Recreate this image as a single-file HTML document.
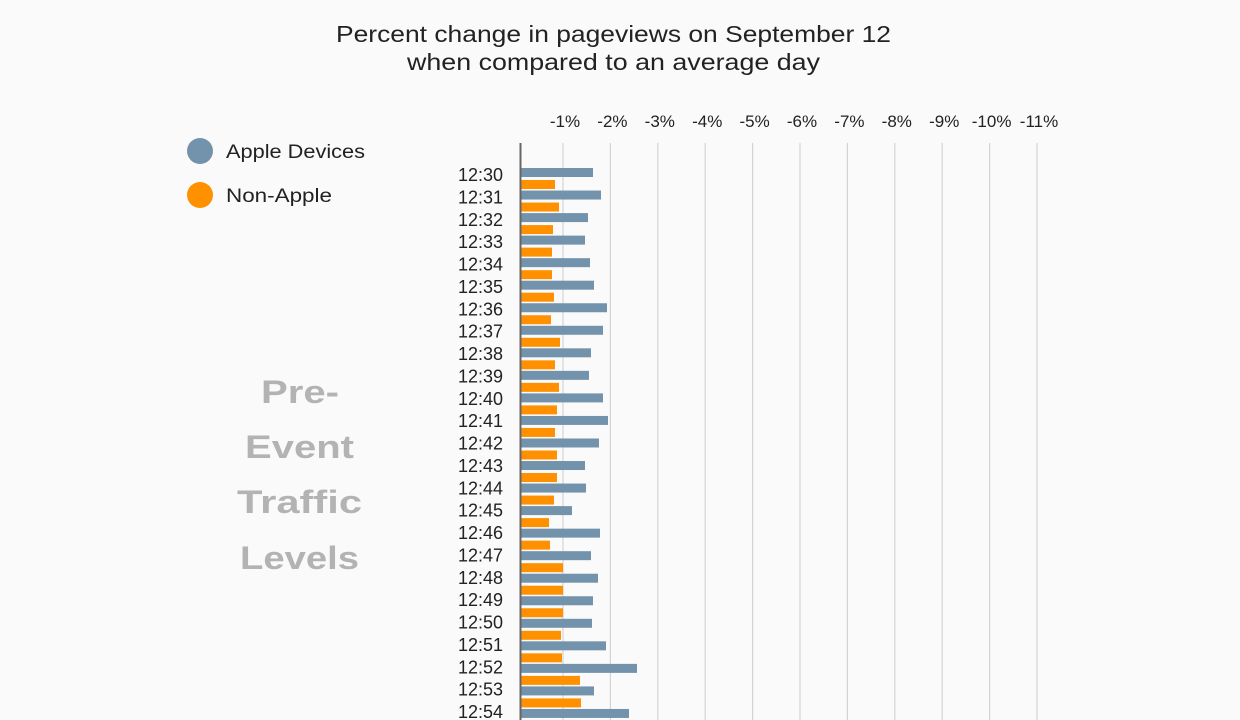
<!DOCTYPE html>
<html><head><meta charset="utf-8"><style>
html,body{margin:0;padding:0;background:#fafafa;}
svg{display:block;font-family:"Liberation Sans",sans-serif;}
</style></head><body>
<svg width="1240" height="720" viewBox="0 0 1240 720">
<rect width="1240" height="720" fill="#fafafa"/>
<text x="336" y="42" font-size="23" fill="#222" textLength="555" lengthAdjust="spacingAndGlyphs">Percent change in pageviews on September 12</text>
<text x="407" y="70" font-size="23" fill="#222" textLength="413" lengthAdjust="spacingAndGlyphs">when compared to an average day</text>
<circle cx="200" cy="151" r="13" fill="#7393ad"/>
<circle cx="200" cy="195" r="13" fill="#ff9100"/>
<text x="226" y="158" font-size="19" fill="#222" textLength="139" lengthAdjust="spacingAndGlyphs">Apple Devices</text>
<text x="226" y="202" font-size="19" fill="#222" textLength="106" lengthAdjust="spacingAndGlyphs">Non-Apple</text>
<g font-size="32" font-weight="bold" fill="#b3b3b3">
<text x="261" y="403" textLength="78" lengthAdjust="spacingAndGlyphs">Pre-</text>
<text x="245" y="458" textLength="109" lengthAdjust="spacingAndGlyphs">Event</text>
<text x="237" y="513" textLength="125" lengthAdjust="spacingAndGlyphs">Traffic</text>
<text x="240" y="569" textLength="119" lengthAdjust="spacingAndGlyphs">Levels</text>
</g>
<g id="grid" stroke="#d4d4d4" stroke-width="1.2"></g>
<g id="ticks" font-size="17" fill="#222" text-anchor="middle"></g>
<g id="bars"></g>
<line x1="520.5" y1="143" x2="520.5" y2="720" stroke="#666" stroke-width="2"/>
<script>
var ns="http://www.w3.org/2000/svg";
function el(t,a,p,txt){var e=document.createElementNS(ns,t);for(var k in a)e.setAttribute(k,a[k]);if(txt)e.textContent=txt;document.getElementById(p).appendChild(e);}
for(var k=1;k<=11;k++){var x=563+47.4*(k-1);el('line',{x1:x,y1:143,x2:x,y2:720},'grid');el('text',{x:x+2,y:127},'ticks','-'+k+'%');}
var b=[[593,555],[601,559],[588,553],[585,552],[590,552],[594,554],[607,551],[603,560],[591,555],[589,559],[603,557],[608,555],[599,557],[585,557],[586,554],[572,549],[600,550],[591,563],[598,563],[593,563],[592,561],[606,562],[637,580],[594,581],[629,575]];
for(var i=0;i<25;i++){var y=168+22.54*i;
el('rect',{x:521,y:y,width:b[i][0]-521,height:9,fill:'#7393ad'},'bars');
el('rect',{x:521,y:y+12,width:b[i][1]-521,height:9,fill:'#ff9100'},'bars');
var m=30+i;el('text',{x:503,y:175+6+22.375*i,'font-size':18,fill:'#222','text-anchor':'end'},'bars','12:'+m);}
</script>
</svg>
</body></html>
